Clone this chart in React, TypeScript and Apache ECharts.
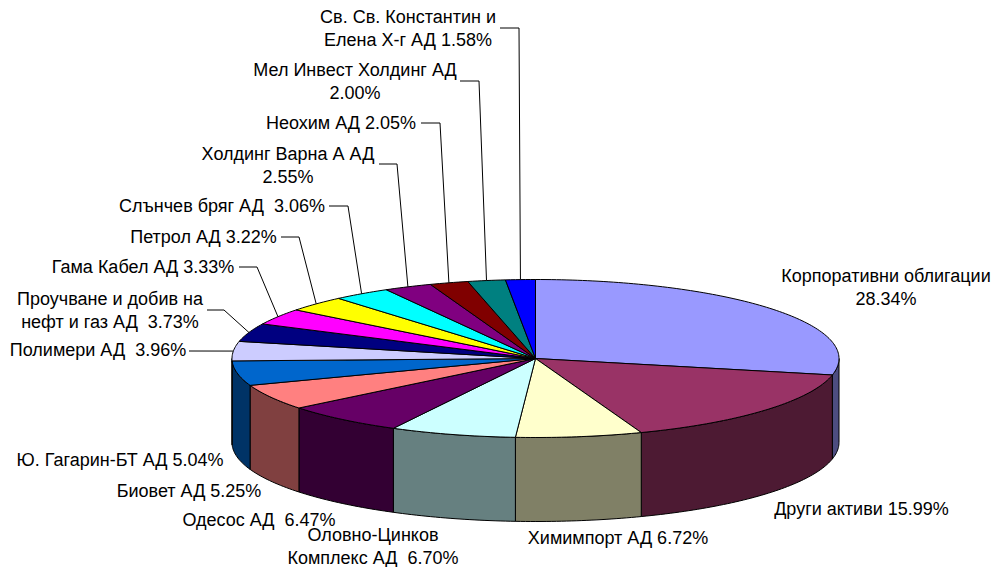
import React, { useEffect, useRef } from "react";
import * as echarts from "echarts";

const sliceNames = [
  "Корпоративни облигации\n28.34%",
  "Други активи 15.99%",
  "Химимпорт АД 6.72%",
  "Оловно-Цинков\nКомплекс АД  6.70%",
  "Одесос АД  6.47%",
  "Биовет АД 5.25%",
  "Ю. Гагарин-БТ АД 5.04%",
  "Полимери АД  3.96%",
  "Проучване и добив на\nнефт и газ АД  3.73%",
  "Гама Кабел АД 3.33%",
  "Петрол АД 3.22%",
  "Слънчев бряг АД  3.06%",
  "Холдинг Варна А АД\n2.55%",
  "Неохим АД 2.05%",
  "Мел Инвест Холдинг АД\n2.00%",
  "Св. Св. Константин и\nЕлена Х-г АД 1.58%",
];
const sliceValues = [28.34, 15.99, 6.72, 6.7, 6.47, 5.25, 5.04, 3.96, 3.73, 3.33, 3.22, 3.06, 2.55, 2.05, 2.0, 1.58];
const topColors = ["#9999FF", "#993366", "#FFFFCC", "#CCFFFF", "#660066", "#FF8080", "#0066CC", "#CCCCFF", "#000080", "#FF00FF", "#FFFF00", "#00FFFF", "#800080", "#800000", "#008080", "#0000FF"];
const wallColors = ["#4D4D80", "#4D1A33", "#808066", "#668080", "#330033", "#804040", "#003366", "#666680", "#000040", "#800080", "#808000", "#008080", "#400040", "#400000", "#004040", "#000080"];

// label centre x, first-line centre y
const labelAnchors: [number, number][] = [
  [886, 276], [861.5, 509], [618, 538], [373, 535], [259, 520], [189, 491], [120, 460], [98, 350],
  [110, 299], [143, 267], [203.5, 237], [222, 206], [288, 154], [341, 123], [355, 70], [408, 17],
];
// leader start and elbow; the end is on the rim, at the slice's middle
const leaderPaths: ([number, number][] | null)[] = [
  null, null, null, null, null, null, null,
  [[189, 351]],
  [[207, 310], [224, 310]],
  [[239, 267], [257, 267]],
  [[281, 237], [299, 237]],
  [[329, 206], [348, 206]],
  [[379, 164], [397, 164]],
  [[421, 123], [440, 123]],
  [[460, 81], [479, 81]],
  [[500, 28], [519, 28]],
];

const CX = 535.5, CY = 358.5, RX = 303.5, RY = 79, DEPTH = 84;
const LINE_HEIGHT = 23;

const total = sliceValues.reduce((a, b) => a + b, 0);
const cumBefore = (i: number) => sliceValues.slice(0, i).reduce((a, b) => a + b, 0);
const rim = (deg: number, dy = 0): [number, number] => {
  const r = (deg * Math.PI) / 180;
  return [CX + RX * Math.sin(r), CY - RY * Math.cos(r) + dy];
};
const arc = (a: number, b: number, dy = 0) => {
  const pts: [number, number][] = [];
  const n = Math.max(2, Math.ceil(Math.abs(b - a)));
  for (let k = 0; k <= n; k++) pts.push(rim(a + ((b - a) * k) / n, dy));
  return pts;
};

const renderSlice = (params: any, api: any) => {
  const i = params.dataIndex;
  const a0 = (cumBefore(i) / total) * 360;
  const a1 = a0 + (api.value(0) / total) * 360;
  const stroke = { stroke: "#000", lineWidth: 1, lineJoin: "round" };
  const children: any[] = [];
  const s = Math.max(a0, 90), e = Math.min(a1, 270);
  if (s < e) {
    children.push({
      type: "polygon",
      shape: { points: [...arc(s, e), ...arc(e, s, DEPTH)] },
      style: { fill: wallColors[i], ...stroke },
    });
  }
  children.push({
    type: "polygon",
    shape: { points: [[CX, CY], ...arc(a0, a1)] },
    style: { fill: topColors[i], ...stroke },
  });
  const path = leaderPaths[i];
  if (path) {
    children.push({
      type: "polyline",
      shape: { points: [...path, rim((a0 + a1) / 2)] },
      style: { fill: "none", stroke: "#000", lineWidth: 1 },
    });
  }
  const [lx, ly] = labelAnchors[i];
  children.push({
    type: "text",
    x: lx,
    y: ly - LINE_HEIGHT / 2,
    style: {
      text: sliceNames[i],
      fill: "#000",
      font: '18px "Liberation Sans", Arial, sans-serif',
      lineHeight: LINE_HEIGHT,
      align: "center",
      verticalAlign: "top",
    },
  });
  return { type: "group", children };
};

export default function App() {
  const ref = useRef<HTMLDivElement>(null);
  useEffect(() => {
    document.body.style.margin = "0";
    const chart = echarts.init(ref.current!, undefined, { renderer: "svg" });
    chart.setOption({
      animation: false,
      backgroundColor: "#fff",
      series: [
        {
          type: "custom",
          coordinateSystem: "none",
          silent: true,
          renderItem: renderSlice,
          data: sliceValues.map((v, i) => ({ name: sliceNames[i], value: [v] })),
        },
      ],
    });
    return () => chart.dispose();
  }, []);
  return <div ref={ref} style={{ width: 995, height: 567 }} />;
}
